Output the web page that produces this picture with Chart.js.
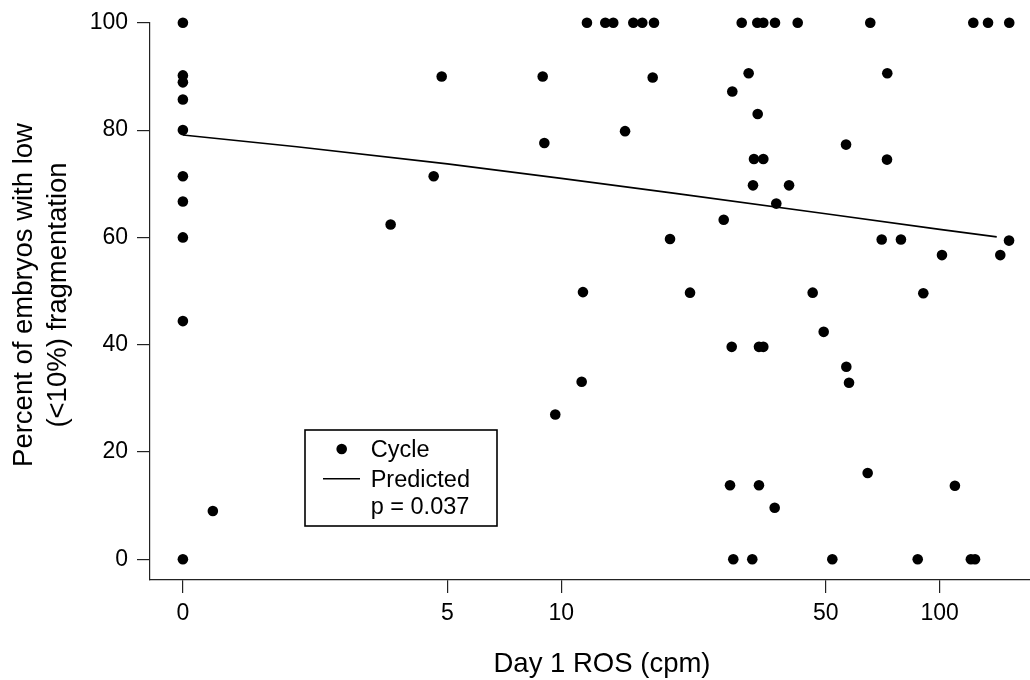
<!DOCTYPE html>
<html>
<head>
<meta charset="utf-8">
<script src="https://cdn.jsdelivr.net/npm/chart.js@4.4.1/dist/chart.umd.min.js"></script>
<style>
html, body { margin: 0; padding: 0; background: #fff; overflow: hidden; width: 1030px; height: 680px; }
#wrap { position: relative; width: 1054px; height: 680px; }
canvas { display: block; }
</style>
</head>
<body>
<div id="wrap"><canvas id="c" width="1054" height="680"></canvas></div>
<script>
// ---- Data ----
// Day 1 ROS (cpm); a value of 0 is drawn at the "0" tick position
const rosValues = [
  0, 0, 0, 0, 0, 0, 0, 0, 0, 0,
  1.20, 3.54, 4.60, 4.83, 8.93, 9.02, 9.64, 11.32, 11.41, 11.69,
  13.07, 13.72, 14.74, 15.50, 16.37, 17.44, 17.58, 19.38, 21.89, 26.87,
  27.92, 28.21, 28.31, 28.48, 29.98, 31.27, 31.97, 32.11, 32.30, 32.96,
  33.04, 33.30, 33.30, 34.19, 34.19, 34.19, 36.64, 36.71, 37.00, 39.99,
  42.15, 46.17, 49.37, 52.03, 56.56, 56.66, 57.60, 64.52, 65.55, 70.27,
  72.57, 72.70, 79.00, 87.48, 90.51, 101.4, 109.7, 120.9, 122.7, 124.0,
  134.2, 144.6, 152.5, 152.7
];
// Percent of embryos with low (<10%) fragmentation
const pctValues = [
  100, 90.2, 88.9, 85.7, 80, 71.4, 66.7, 60, 44.4, 0,
  9.0, 62.4, 71.4, 90, 90, 77.6, 27.0, 33.1, 49.8, 100,
  100, 100, 79.8, 100, 100, 89.8, 100, 59.7, 49.7, 63.3,
  13.8, 39.6, 87.2, 0, 100, 90.6, 0, 69.7, 74.6, 100,
  83.0, 13.8, 39.6, 100, 74.6, 39.6, 9.6, 100, 66.3, 69.7,
  100, 49.7, 42.4, 0, 77.3, 35.9, 32.9, 16.1, 100, 59.6,
  74.5, 90.6, 59.6, 0, 49.6, 56.7, 13.7, 0, 100, 0,
  100, 56.7, 59.4, 100
];
// Predicted (fitted) curve
const fitRos = [0, 2, 5, 10, 20, 50, 100, 141.5];
const fitPct = [79.1, 76.9, 73.7, 71.0, 68.2, 64.4, 61.5, 60.1];

const xTickValues = [1, 5, 10, 50, 100];
const xTickLabels = ['0', '5', '10', '50', '100'];
const yTickValues = [0, 20, 40, 60, 80, 100];

const xTitle = 'Day 1 ROS (cpm)';
const yTitleLines = ['Percent of embryos with low', '(<10%) fragmentation'];
const legendLabels = ['Cycle', 'Predicted', 'p = 0.037'];

// ---- Chart ----
const FONT = "'Liberation Sans', Arial, Helvetica, sans-serif";
const ZERO_POS = xTickValues[0];
const toX = r => (r === 0 ? ZERO_POS : r);

const cyclePoints = rosValues.map((r, i) => ({ x: toX(r), y: pctValues[i] }));
const fitPoints = fitRos.map((r, i) => ({ x: toX(r), y: fitPct[i] }));

const whiteBg = {
  id: 'whiteBg',
  beforeDraw(chart) {
    const ctx = chart.ctx;
    ctx.save();
    ctx.fillStyle = '#fff';
    ctx.fillRect(0, 0, chart.width, chart.height);
    ctx.restore();
  }
};

// Two-line rotated y-axis title
const yTitlePlugin = {
  id: 'yTitle',
  afterDraw(chart) {
    const ctx = chart.ctx;
    const cy = 295;
    const baselines = [31.7, 66];
    ctx.save();
    ctx.fillStyle = '#000';
    ctx.font = '27.5px ' + FONT;
    ctx.textAlign = 'center';
    ctx.textBaseline = 'alphabetic';
    yTitleLines.forEach((t, i) => {
      ctx.save();
      ctx.translate(baselines[i], cy);
      ctx.rotate(-Math.PI / 2);
      ctx.fillText(t, 0, 0);
      ctx.restore();
    });
    ctx.restore();
  }
};

const boxLegend = {
  id: 'boxLegend',
  afterDatasetsDraw(chart) {
    const ctx = chart.ctx;
    const bx = 305, by = 430, bw = 192, bh = 96;
    ctx.save();
    ctx.fillStyle = '#fff';
    ctx.fillRect(bx, by, bw, bh);
    ctx.strokeStyle = '#000';
    ctx.lineWidth = 1.6;
    ctx.strokeRect(bx, by, bw, bh);
    ctx.fillStyle = '#000';
    ctx.beginPath();
    ctx.arc(341.7, 449, 5.3, 0, Math.PI * 2);
    ctx.fill();
    ctx.beginPath();
    ctx.moveTo(323, 478.7);
    ctx.lineTo(360, 478.7);
    ctx.lineWidth = 1.6;
    ctx.stroke();
    ctx.font = '23.5px ' + FONT;
    ctx.textAlign = 'left';
    ctx.textBaseline = 'alphabetic';
    const baselines = [456.5, 487, 514.3];
    legendLabels.forEach((t, i) => ctx.fillText(t, 370.7, baselines[i]));
    ctx.restore();
  }
};

new Chart(document.getElementById('c'), {
  type: 'scatter',
  data: {
    datasets: [
      {
        label: legendLabels[0],
        data: cyclePoints,
        backgroundColor: '#000',
        borderColor: '#000',
        borderWidth: 0,
        pointRadius: 5.3,
        pointHoverRadius: 5.3,
        clip: false,
        order: 1
      },
      {
        label: legendLabels[1],
        data: fitPoints,
        showLine: true,
        borderColor: '#000',
        borderWidth: 1.6,
        pointRadius: 0,
        tension: 0,
        fill: false,
        clip: false,
        order: 2
      }
    ]
  },
  options: {
    responsive: false,
    animation: false,
    events: [],
    layout: { autoPadding: false, padding: { top: 22.7, left: 0, right: 0, bottom: 0 } },
    plugins: { legend: { display: false }, tooltip: { enabled: false } },
    scales: {
      x: {
        type: 'logarithmic',
        position: 'bottom',
        min: 0.8186,
        max: 200.5,
        afterBuildTicks: s => { s.ticks = xTickValues.map(v => ({ value: v })); },
        afterFit: s => { s.height = 100; },
        ticks: {
          autoSkip: false,
          maxRotation: 0,
          color: '#000',
          padding: 7,
          font: { family: FONT, size: 23 },
          callback: (v, i) => xTickLabels[i]
        },
        grid: { display: true, drawOnChartArea: false, drawTicks: true, tickLength: 13, color: '#222', lineWidth: 1.2 },
        border: { display: true, color: '#222', width: 1.2 },
        title: {
          display: true,
          text: xTitle,
          color: '#000',
          font: { family: FONT, size: 27.5, lineHeight: 1 },
          padding: { top: 0, bottom: 2 }
        }
      },
      y: {
        type: 'linear',
        min: -3.858,
        max: 100,
        afterBuildTicks: s => { s.ticks = yTickValues.map(v => ({ value: v })); },
        afterFit: s => { s.width = 150; },
        ticks: {
          color: '#000',
          padding: 9,
          font: { family: FONT, size: 23 },
          callback: v => String(v)
        },
        grid: { display: true, drawOnChartArea: false, drawTicks: true, tickLength: 13, color: '#222', lineWidth: 1.2 },
        border: { display: true, color: '#222', width: 1.2 },
        title: { display: false }
      }
    }
  },
  plugins: [whiteBg, yTitlePlugin, boxLegend]
});
</script>
</body>
</html>
